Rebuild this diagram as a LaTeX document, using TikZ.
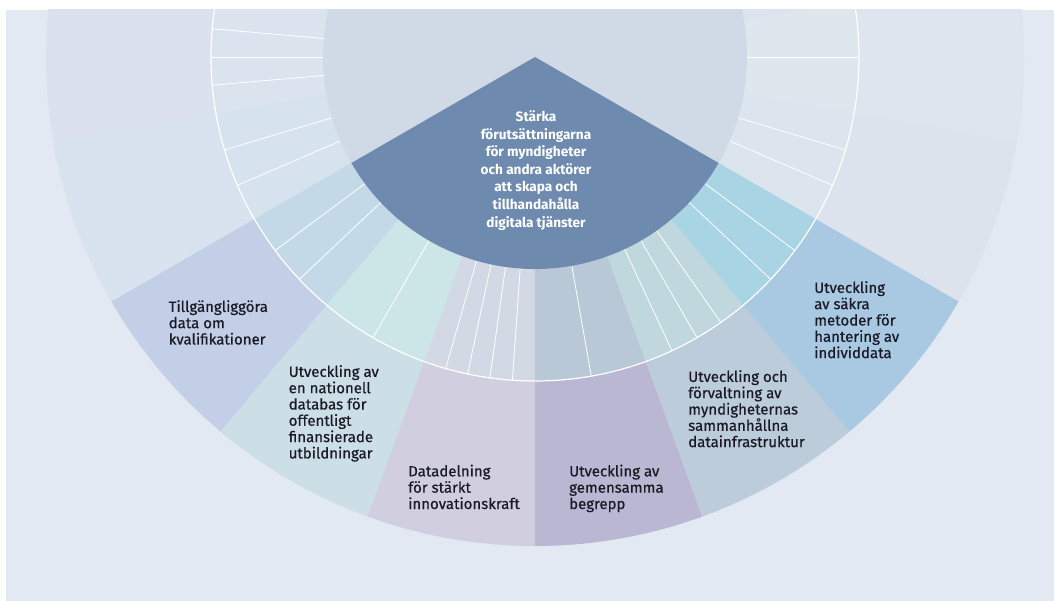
\documentclass[tikz,border=0pt]{standalone}
\usepackage{fontspec}
\setmainfont{Fira Sans}
\newfontfamily\lblfont{Fira Sans}[FakeBold=0.5]
\definecolor{bgc}{HTML}{E2E9F3}
\definecolor{oup}{HTML}{DBE2ED}
\definecolor{oA}{HTML}{D8E3EF}
\definecolor{oB}{HTML}{DCE3ED}
\definecolor{oC}{HTML}{DEE5EE}
\definecolor{mup}{HTML}{DBE3EE}
\definecolor{mA}{HTML}{D6E2EE}
\definecolor{mB}{HTML}{DCE4EE}
\definecolor{mC}{HTML}{DEE6EE}
\definecolor{innerc}{HTML}{D0DAE6}
\definecolor{darkw}{HTML}{6E8AAE}
\definecolor{o1}{HTML}{C3CFE6}
\definecolor{o2}{HTML}{CCDFE6}
\definecolor{o3}{HTML}{D1CEE0}
\definecolor{o4}{HTML}{B9B7D2}
\definecolor{o5}{HTML}{BCCCDA}
\definecolor{o6}{HTML}{A9C8E2}
\definecolor{m1}{HTML}{C4D9E8}
\definecolor{m2}{HTML}{CCE6E8}
\definecolor{m3}{HTML}{D3D9E4}
\definecolor{m4}{HTML}{B9C8D7}
\definecolor{m5}{HTML}{BFD7DD}
\definecolor{m6}{HTML}{A9D4E3}
\definecolor{txt}{HTML}{1A1A26}
\newcommand\wedgefill[4]{\fill[#1] (0,0) -- (#2:#4) arc[start angle=#2,end angle=#3,radius=#4] -- cycle;}
\tikzset{
  lbl/.style={anchor=north west, inner sep=0pt, align=left, text=txt,
    font=\lblfont\fontsize{15}{16.3}\selectfont},
  ctr/.style={anchor=north, inner sep=0pt, align=center, text=white,
    font=\bfseries\fontsize{13.6}{17.6}\selectfont},
  subline/.style={white, line width=0.8pt},
}
\begin{document}
\begin{tikzpicture}[x=1pt,y=1pt]
\useasboundingbox (0,0) rectangle (1054,-601);
\fill[white] (0,0) rectangle (1054,-601);
\fill[bgc] (6,-10) rectangle (1054,-601);
\begin{scope}
\clip (6,-10) rectangle (1054,-601);
\begin{scope}[shift={(535,-57)}]
  % outer ring
  \fill[oup] (0,0) circle[radius=489];
  \wedgefill{oA}{190}{210}{489}
  \wedgefill{oB}{330}{350}{489}
  \wedgefill{oC}{350}{370}{489}
  \wedgefill{o1}{210}{230}{489}
  \wedgefill{o2}{230}{250}{489}
  \wedgefill{o3}{250}{270}{489}
  \wedgefill{o4}{270}{290}{489}
  \wedgefill{o5}{290}{310}{489}
  \wedgefill{o6}{310}{330}{489}
  % middle ring
  \fill[mup] (0,0) circle[radius=324];
  \wedgefill{mA}{190}{210}{324}
  \wedgefill{mB}{330}{350}{324}
  \wedgefill{mC}{350}{370}{324}
  \wedgefill{m1}{210}{230}{324}
  \wedgefill{m2}{230}{250}{324}
  \wedgefill{m3}{250}{270}{324}
  \wedgefill{m4}{270}{290}{324}
  \wedgefill{m5}{290}{310}{324}
  \wedgefill{m6}{310}{330}{324}
  \foreach \a in {175,180,185,196.67,203.33,216.67,223.33,240,254,258,262,266,280,295,300,305,316.67,323.33,336.67,343.33,360}
    \draw[subline] (\a:212) -- (\a:324);
  \draw[white, line width=1.2pt] (0,0) circle[radius=324];
  % inner disc
  \fill[innerc] (0,0) circle[radius=212];
  \wedgefill{darkw}{210}{330}{212}
\end{scope}
\end{scope}
\node[ctr] (core) at (536,-110.5) {Stärka\\förutsättningarna\\för myndigheter\\och andra aktörer\\att skapa och\\tillhandahålla\\digitala tjänster};
\node[lbl] (l1) at (168.5,-300) {Tillgängliggöra\\data om\\kvalifikationer};
\node[lbl] (l2) at (288.5,-365) {Utveckling av\\en nationell\\databas för\\offentligt\\finansierade\\utbildningar};
\node[lbl] (l3) at (408,-464.5) {Datadelning\\för stärkt\\innovationskraft};
\node[lbl] (l4) at (569,-464.5) {Utveckling av\\gemensamma\\begrepp};
\node[lbl] (l5) at (688,-370) {Utveckling och\\förvaltning av\\myndigheternas\\sammanhållna\\datainfrastruktur};
\node[lbl] (l6) at (814,-281) {Utveckling\\av säkra\\metoder för\\hantering av\\individdata};
\end{tikzpicture}
\end{document}
